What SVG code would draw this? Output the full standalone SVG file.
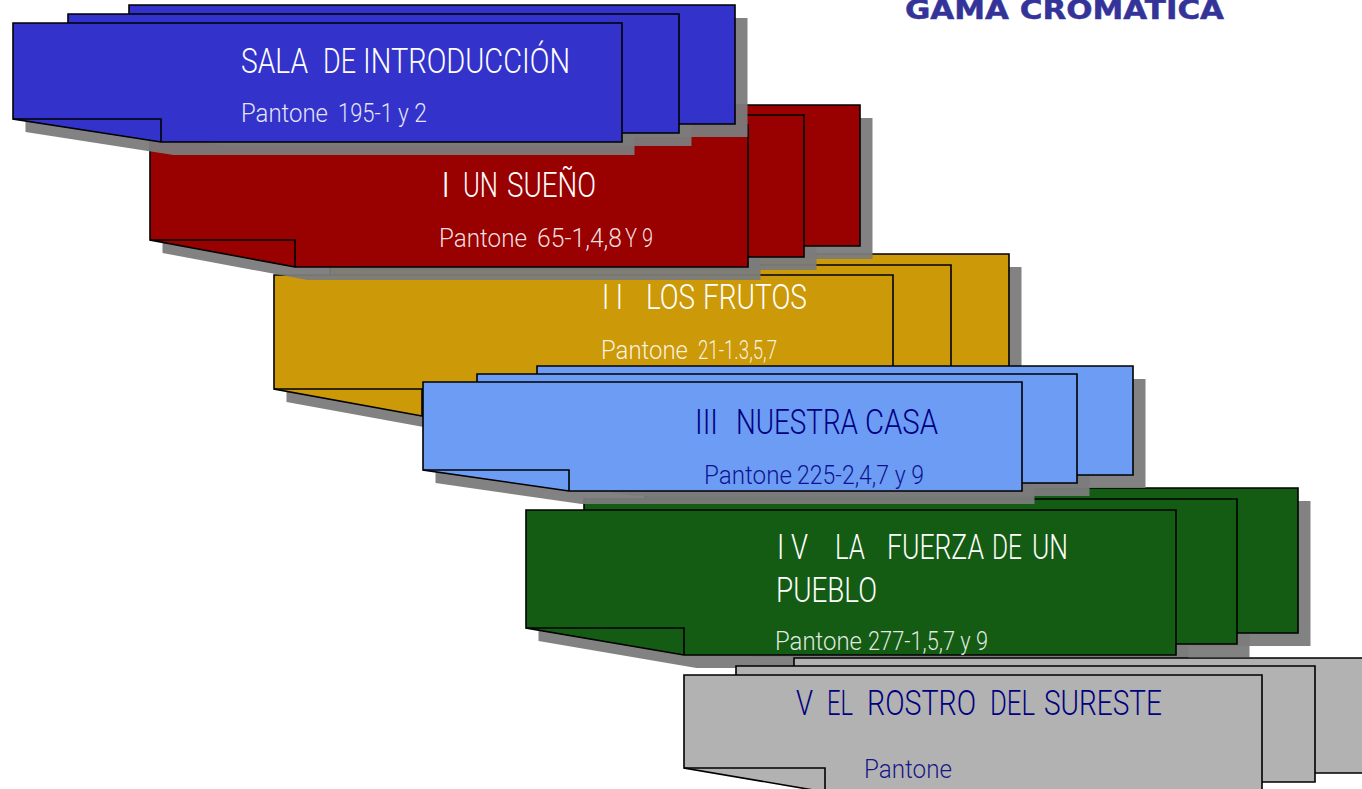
<svg xmlns="http://www.w3.org/2000/svg" width="1362" height="789" viewBox="0 0 1362 789">
<style>
text{font-family:"Roboto","Liberation Sans",sans-serif;font-weight:300;white-space:pre}
.h{font-size:35px}
.p{font-size:26px;fill-opacity:.88}
.w{fill:#ffffff}
.n{fill:#000080}
.s{fill:#7b7b7b;fill-opacity:.95;stroke:none}
.e{stroke:#000;stroke-width:1.6;stroke-linejoin:miter}
.f{fill:none;stroke:#000;stroke-width:1.6}
.blue{fill:#3333cc}.red{fill:#990000}.yel{fill:#cc9908}.lb{fill:#6c9cf4}.gr{fill:#145c14}.gy{fill:#b2b2b2}
#title{font-family:"DejaVu Sans",Verdana,sans-serif;font-weight:700;font-size:27px;fill:#333399;stroke:#333399;stroke-width:.5}
</style>
<defs>
<path id="y3" d="M386,254H1009V395H534L386,368Z"/>
<path id="y2" d="M330,265H951V406H478L330,379Z"/>
<path id="y1" d="M274,275H893V416H422L274,389Z"/>
<path id="g3" d="M645,488H1298V633H803L645,606Z"/>
<path id="g2" d="M584,499H1237V644H742L584,617Z"/>
<path id="g1" d="M526,510H1176V655H684L526,628Z"/>
<path id="l3" d="M537,366H1133V475H683L537,454Z"/>
<path id="l2" d="M477,374H1077V483H623L477,462Z"/>
<path id="l1" d="M423,382H1022V491H569L423,470Z"/>
<path id="r3" d="M262,105H860V246H407L262,219Z"/>
<path id="r2" d="M206,115H804V257H351L206,230Z"/>
<path id="r1" d="M150,125H748V267H295L150,240Z"/>
<path id="b3" d="M129,5H735V124H277L129,101Z"/>
<path id="b2" d="M68,14H679V133H216L68,110Z"/>
<path id="b1" d="M13,23H622V142H161L13,119Z"/>
</defs>
<rect width="1362" height="789" fill="#ffffff"/>

<g id="stack-2">
<g class="s" transform="translate(12.5,13)"><use href="#y3"/><use href="#y2"/><use href="#y1"/></g>
<g class="e yel"><use href="#y3"/><use href="#y2"/><use href="#y1"/></g>
<path class="f" d="M274,389H422V416"/>
<text class="h w" y="309"><tspan x="602" textLength="21" lengthAdjust="spacingAndGlyphs">I I</tspan> <tspan x="646" textLength="49" lengthAdjust="spacingAndGlyphs">LOS</tspan> <tspan x="703" textLength="104" lengthAdjust="spacingAndGlyphs">FRUTOS</tspan></text>
<text class="p w" y="359"><tspan x="601" textLength="87" lengthAdjust="spacingAndGlyphs">Pantone</tspan> <tspan x="698" textLength="79" lengthAdjust="spacingAndGlyphs">21-1.3,5,7</tspan></text>
</g>

<g id="stack-4">
<g class="s" transform="translate(12.5,13)"><use href="#g3"/><use href="#g2"/><use href="#g1"/></g>
<g class="e gr"><use href="#g3"/><use href="#g2"/><use href="#g1"/></g>
<path class="f" d="M526,628H684V655"/>
<text class="h w" y="559"><tspan x="777" textLength="31" lengthAdjust="spacingAndGlyphs">I V</tspan> <tspan x="835" textLength="30" lengthAdjust="spacingAndGlyphs">LA</tspan> <tspan x="887" textLength="97" lengthAdjust="spacingAndGlyphs">FUERZA</tspan> <tspan x="992" textLength="30" lengthAdjust="spacingAndGlyphs">DE</tspan> <tspan x="1032" textLength="36" lengthAdjust="spacingAndGlyphs">UN</tspan></text>
<text class="h w" x="776" y="602" textLength="101" lengthAdjust="spacingAndGlyphs">PUEBLO</text>
<text class="p w" y="650"><tspan x="775" textLength="87" lengthAdjust="spacingAndGlyphs">Pantone</tspan> <tspan x="868" textLength="120" lengthAdjust="spacingAndGlyphs">277-1,5,7 y 9</tspan></text>
</g>

<g id="stack-5">
<g class="e gy"><path d="M794,658H1384V773H935L794,749Z"/><path d="M736,666H1315V782H877L736,758Z"/><path d="M684,675H1262V792H825L684,768Z"/></g>
<path class="f" d="M684,768H825V792"/>
<text class="h n" y="715"><tspan x="796" textLength="17" lengthAdjust="spacingAndGlyphs">V</tspan> <tspan x="827" textLength="26" lengthAdjust="spacingAndGlyphs">EL</tspan> <tspan x="867" textLength="109" lengthAdjust="spacingAndGlyphs">ROSTRO</tspan> <tspan x="990" textLength="45" lengthAdjust="spacingAndGlyphs">DEL</tspan> <tspan x="1044" textLength="118" lengthAdjust="spacingAndGlyphs">SURESTE</tspan></text>
<text class="p n" x="864" y="778" textLength="88" lengthAdjust="spacingAndGlyphs">Pantone</text>
</g>

<g id="stack-3">
<g class="s" transform="translate(12.5,13)"><use href="#l3"/><use href="#l2"/><use href="#l1"/></g>
<g class="e lb"><use href="#l3"/><use href="#l2"/><use href="#l1"/></g>
<path class="f" d="M423,470H569V491"/>
<text class="h n" y="434"><tspan x="695" textLength="23" lengthAdjust="spacingAndGlyphs">III</tspan> <tspan x="736" textLength="122" lengthAdjust="spacingAndGlyphs">NUESTRA</tspan> <tspan x="865" textLength="73" lengthAdjust="spacingAndGlyphs">CASA</tspan></text>
<text class="p n" y="484"><tspan x="704" textLength="88" lengthAdjust="spacingAndGlyphs">Pantone</tspan> <tspan x="797" textLength="127" lengthAdjust="spacingAndGlyphs">225-2,4,7 y 9</tspan></text>
</g>

<g id="stack-1">
<g class="s" transform="translate(12.5,13)"><use href="#r3"/><use href="#r2"/><use href="#r1"/></g>
<g class="e red"><use href="#r3"/><use href="#r2"/><use href="#r1"/></g>
<path class="f" d="M150,240H295V267"/>
<text class="h w" y="197"><tspan x="441">I</tspan> <tspan x="463" textLength="35" lengthAdjust="spacingAndGlyphs">UN</tspan> <tspan x="507" textLength="89" lengthAdjust="spacingAndGlyphs">SUEÑO</tspan></text>
<text class="p w" y="247"><tspan x="439" textLength="88" lengthAdjust="spacingAndGlyphs">Pantone</tspan> <tspan x="537" textLength="85" lengthAdjust="spacingAndGlyphs">65-1,4,8</tspan> <tspan x="625" textLength="28" lengthAdjust="spacingAndGlyphs">Y 9</tspan></text>
</g>

<g id="stack-0">
<g class="s" transform="translate(12.5,13)"><use href="#b3"/><use href="#b2"/><use href="#b1"/></g>
<g class="e blue"><use href="#b3"/><use href="#b2"/><use href="#b1"/></g>
<path class="f" d="M13,119H161V142"/>
<text class="h w" y="73"><tspan x="241" textLength="67" lengthAdjust="spacingAndGlyphs">SALA</tspan> <tspan x="323" textLength="33" lengthAdjust="spacingAndGlyphs">DE</tspan> <tspan x="363" textLength="207" lengthAdjust="spacingAndGlyphs">INTRODUCCIÓN</tspan></text>
<text class="p w" y="122"><tspan x="241" textLength="87" lengthAdjust="spacingAndGlyphs">Pantone</tspan> <tspan x="338" textLength="55" lengthAdjust="spacingAndGlyphs">195-1</tspan> <tspan x="398" textLength="29" lengthAdjust="spacingAndGlyphs">y 2</tspan></text>
</g>

<g id="heading">
<text id="title" x="905" y="19" textLength="319" lengthAdjust="spacingAndGlyphs">GAMA CROMATICA</text>
</g>
</svg>
